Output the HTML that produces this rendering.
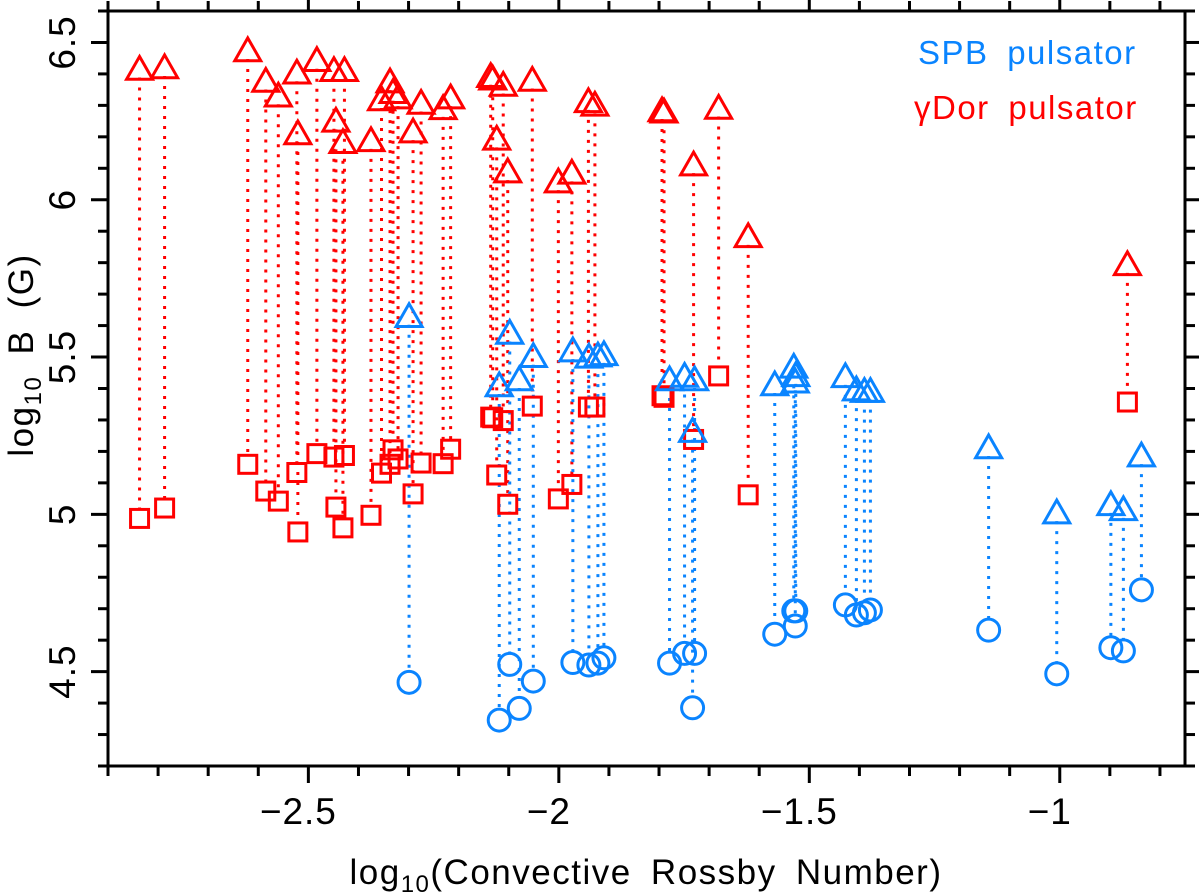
<!DOCTYPE html>
<html><head><meta charset="utf-8"><style>
html,body{margin:0;padding:0;background:#fff;}
svg{display:block;font-family:"Liberation Sans",sans-serif;}
</style></head><body>
<svg id="chart" width="1200" height="896" viewBox="0 0 1200 896"></svg>
<script>
// gamma Dor pairs: x, upper (triangle) B, lower (square) B
const gdX = [-2.837,-2.787,-2.621,-2.585,-2.560,-2.523,-2.521,-2.483,-2.449,-2.445,-2.428,-2.431,-2.375,-2.354,-2.337,-2.331,-2.321,-2.291,-2.275,-2.231,-2.216,-2.136,-2.132,-2.124,-2.111,-2.102,-2.053,-2.001,-1.974,-1.941,-1.928,-1.794,-1.790,-1.731,-1.681,-1.622,-0.865];
const gdTop = [6.414,6.419,6.473,6.376,6.329,6.402,6.209,6.442,6.410,6.249,6.410,6.181,6.187,6.317,6.374,6.340,6.323,6.215,6.306,6.289,6.323,6.391,6.383,6.192,6.363,6.088,6.379,6.056,6.084,6.311,6.300,6.282,6.278,6.110,6.290,5.882,5.793];
const gdBot = [4.987,5.020,5.159,5.074,5.042,5.133,4.944,5.193,5.182,5.023,5.187,4.957,4.997,5.131,5.159,5.205,5.176,5.065,5.163,5.161,5.207,5.309,5.307,5.125,5.298,5.032,5.344,5.049,5.095,5.341,5.341,5.377,5.372,5.238,5.440,5.062,5.357];
// SPB pairs: x, upper (triangle) B, lower (circle) B
const spbX = [-2.299,-2.098,-2.051,-2.119,-2.079,-1.972,-1.940,-1.922,-1.910,-1.779,-1.749,-1.729,-1.733,-1.569,-1.531,-1.527,-1.528,-1.428,-1.406,-1.390,-1.378,-1.142,-1.006,-0.898,-0.873,-0.837];
const spbTop = [5.628,5.575,5.501,5.408,5.427,5.519,5.499,5.503,5.507,5.427,5.438,5.427,5.263,5.411,5.467,5.440,5.420,5.437,5.395,5.390,5.390,5.211,5.004,5.030,5.014,5.185];
const spbBot = [4.466,4.523,4.470,4.346,4.383,4.529,4.521,4.527,4.544,4.527,4.558,4.558,4.385,4.619,4.693,4.693,4.645,4.712,4.680,4.687,4.696,4.632,4.493,4.576,4.566,4.760];
const xMajor = [-2.5,-2,-1.5,-1];
const xMajorLabels = ["\u22122.5","\u22122","\u22121.5","\u22121"];
const yMajor = [4.5,5,5.5,6,6.5];
const yMajorLabels = ["4.5","5","5.5","6","6.5"];

const L=108,R=1185,T=11,B=766, X0=-2.9,X1=-0.75, Y0=4.2,Y1=6.6;
const sx=v=>L+(v-X0)/(X1-X0)*(R-L);
const sy=v=>B-(v-Y0)/(Y1-Y0)*(B-T);
const svg=document.getElementById('chart');
const NS='http://www.w3.org/2000/svg';
function mk(tag,attrs,parent){const e=document.createElementNS(NS,tag);for(const k in attrs)e.setAttribute(k,attrs[k]);(parent||svg).appendChild(e);return e;}
const RED='#ff0000', BLUE='#0a84ff';

const gLines=mk('g',{});


for(let i=0;i<gdX.length;i++){
  const l=mk('line',{x1:sx(gdX[i]),x2:sx(gdX[i]),y1:sy(gdTop[i])+8,y2:sy(gdBot[i])-9,stroke:RED,'stroke-width':3,'stroke-dasharray':'3 7'},gLines);
  
  
}
for(let i=0;i<spbX.length;i++){
  const l=mk('line',{x1:sx(spbX[i]),x2:sx(spbX[i]),y1:sy(spbTop[i])+8,y2:sy(spbBot[i])-11,stroke:BLUE,'stroke-width':3,'stroke-dasharray':'3 7'},gLines);
  
  
}
function tri(x,y,c,name){const s=13;const p=mk('polygon',{points:`${x},${y-s} ${x+s},${y+s*0.75} ${x-s},${y+s*0.75}`,fill:'none',stroke:c,'stroke-width':3,'stroke-linejoin':'miter'});
  
  }
for(let i=0;i<gdX.length;i++){
  const x=sx(gdX[i]);
  tri(x,sy(gdTop[i]),RED,'gdor-triangle');
  const r=mk('rect',{x:x-9,y:sy(gdBot[i])-9,width:18,height:18,fill:'none',stroke:RED,'stroke-width':3});
  
  
}
for(let i=0;i<spbX.length;i++){
  const x=sx(spbX[i]);
  tri(x,sy(spbTop[i]),BLUE,'spb-triangle');
  const c=mk('circle',{cx:x,cy:sy(spbBot[i]),r:11,fill:'none',stroke:BLUE,'stroke-width':3});
  
  
}
const fr=mk('rect',{x:L,y:T,width:R-L,height:B-T,fill:'none',stroke:'#000','stroke-width':3});


for(let k=-29;k<=-8;k++){const v=k/10;const x=sx(v);const maj=(k%5===0);
  mk('line',{x1:x,x2:x,y1:B,y2:B+(maj?17:10),stroke:'#000','stroke-width':3});
  mk('line',{x1:x,x2:x,y1:T,y2:T-(maj?11:10),stroke:'#000','stroke-width':3});}
for(let k=42;k<=66;k++){const v=k/10;const y=sy(v);const maj=(k%5===0);
  mk('line',{x1:L,x2:L-(maj?17:10),y1:y,y2:y,stroke:'#000','stroke-width':3});
  mk('line',{x1:R,x2:R+(maj?14:10),y1:y,y2:y,stroke:'#000','stroke-width':3});}
xMajor.forEach((v,i)=>{const t=mk('text',{x:sx(v)-10,y:824,'text-anchor':'middle','font-size':37,'letter-spacing':1});t.textContent=xMajorLabels[i];
  
  });
yMajor.forEach((v,i)=>{const t=mk('text',{x:0,y:0,'text-anchor':'middle','font-size':37,'letter-spacing':1,transform:`translate(75,${sy(v)}) rotate(-90)`});t.textContent=yMajorLabels[i];
  
  });
</script>
<svg style="position:absolute;left:0;top:0" width="1200" height="896">
<text x="646" y="884" text-anchor="middle" font-size="35" letter-spacing="1.5" word-spacing="8" font-family="Liberation Sans, sans-serif">log<tspan font-size="24" dy="8">10</tspan><tspan dy="-8">(Convective Rossby Number)</tspan></text>
<text transform="translate(33,355) rotate(-90)" text-anchor="middle" font-size="35" letter-spacing="1.5" word-spacing="10" font-family="Liberation Sans, sans-serif">log<tspan font-size="24" dy="8">10</tspan><tspan dy="-8"> B (G)</tspan></text>
<text x="918" y="64" font-size="33" letter-spacing="1.5" word-spacing="8" fill="#0a84ff" font-family="Liberation Sans, sans-serif">SPB pulsator</text>
<text x="914" y="119" font-size="33" letter-spacing="1.5" word-spacing="8" fill="#ff0000" font-family="Liberation Sans, sans-serif">γDor pulsator</text>
</svg>
</body></html>
